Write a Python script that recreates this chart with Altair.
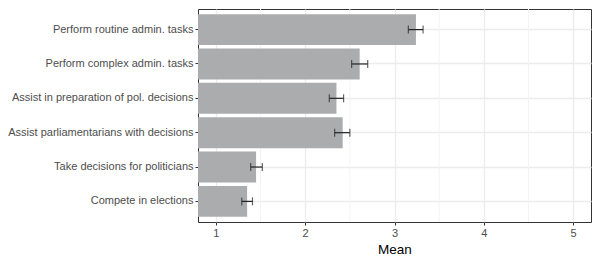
import altair as alt
import pandas as pd

categories = [
    "Perform routine admin. tasks",
    "Perform complex admin. tasks",
    "Assist in preparation of pol. decisions",
    "Assist parliamentarians with decisions",
    "Take decisions for politicians",
    "Compete in elections",
]
means = [3.24, 2.61, 2.35, 2.42, 1.45, 1.35]
lower = [3.155, 2.52, 2.27, 2.33, 1.39, 1.29]
upper = [3.32, 2.70, 2.43, 2.50, 1.52, 1.41]
x_ticks = [1, 2, 3, 4, 5]
minor_ticks = [1.5, 2.5, 3.5, 4.5]

df = pd.DataFrame({"cat": categories, "mean": means, "lo": lower, "hi": upper})

xscale = alt.Scale(domain=[0.8, 5.2], nice=False, zero=False)
yscale = alt.Scale(domain=categories, paddingInner=0.1, paddingOuter=0.15)

y_enc = alt.Y(
    "cat:N",
    scale=yscale,
    sort=categories,
    axis=alt.Axis(
        title=None,
        labelFont="Liberation Sans",
        labelFontSize=11,
        labelColor="#4d4d4d",
        labelPadding=2,
        labelLimit=300,
        tickColor="#333333",
        tickSize=3,
        tickWidth=1,
        domain=False,
        grid=True,
        gridColor="#ececec",
        gridWidth=1.3,
        bandPosition=0.5,
    ),
)

minor = alt.Chart(pd.DataFrame({"m": minor_ticks})).mark_rule(
    color="#f3f3f3", strokeWidth=1
).encode(x=alt.X("m:Q", scale=xscale))

bars = alt.Chart(df).mark_bar(color="#abacae", clip=True).encode(
    x=alt.X(
        "mean:Q",
        scale=xscale,
        axis=alt.Axis(
            title="Mean",
            values=x_ticks,
            format="d",
            titleFont="Liberation Sans",
            titleFontSize=13.5,
            titleFontWeight="normal",
            titleColor="#000000",
            titlePadding=4,
            labelFont="Liberation Sans",
            labelFontSize=11,
            labelColor="#4d4d4d",
            labelPadding=2,
            tickColor="#333333",
            tickSize=3,
            tickWidth=1,
            domain=False,
            grid=True,
            gridColor="#ececec",
            gridWidth=1.3,
        ),
    ),
    x2=alt.datum(0),
    y=y_enc,
)

err = alt.Chart(df).mark_rule(color="#222222", strokeWidth=1.2).encode(
    x=alt.X("lo:Q", scale=xscale),
    x2="hi:Q",
    y=alt.Y("cat:N", scale=yscale, sort=categories),
)

cap_lo = alt.Chart(df).mark_tick(color="#222222", thickness=1.2, size=8, orient="vertical").encode(
    x=alt.X("lo:Q", scale=xscale),
    y=alt.Y("cat:N", scale=yscale, sort=categories),
)
cap_hi = alt.Chart(df).mark_tick(color="#222222", thickness=1.2, size=8, orient="vertical").encode(
    x=alt.X("hi:Q", scale=xscale),
    y=alt.Y("cat:N", scale=yscale, sort=categories),
)

chart = (
    alt.layer(minor, bars, err, cap_lo, cap_hi)
    .properties(
        width=393,
        height=213,
        autosize=alt.AutoSizeParams(type="none"),
        padding={"left": 190, "top": 1, "right": 1, "bottom": 35},
    )
    .configure_view(stroke="#333333", strokeWidth=1)
    .configure_axis(gridCap="butt")
)

chart.save("out.html", embed_options={"renderer": "svg", "actions": False})
